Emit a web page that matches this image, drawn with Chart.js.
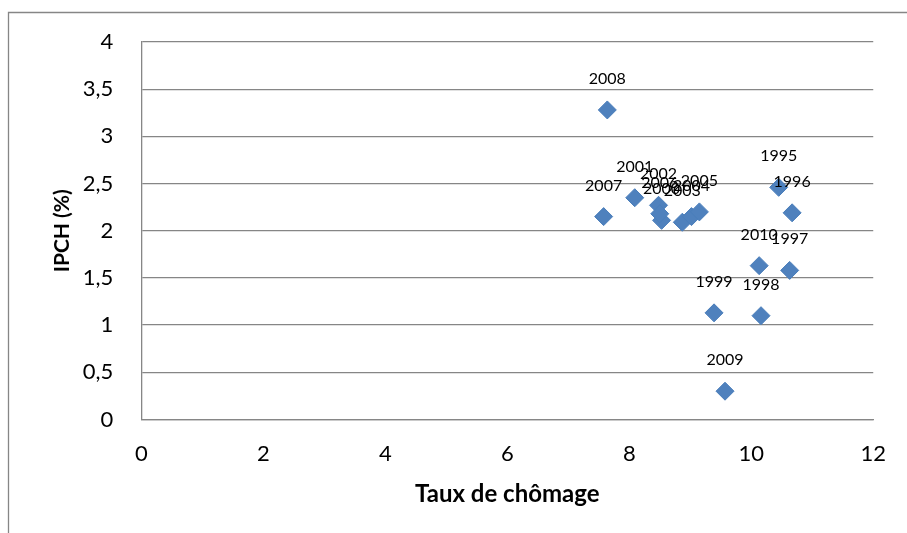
<!DOCTYPE html>
<html lang="fr">
<head>
<meta charset="UTF-8">
<title>IPCH et taux de chômage</title>
<script src="https://cdn.jsdelivr.net/npm/chart.js@4.4.0/dist/chart.umd.min.js"></script>
<style>
  html, body { margin: 0; padding: 0; background: #fff; }
  #graphique { display: block; }
</style>
</head>
<body>
<canvas id="graphique" width="907" height="533"></canvas>
<script>
// années, taux de chômage (%) et IPCH (%)
const annees = ['1995', '1996', '1997', '1998', '1999', '2000', '2001', '2002',
                '2003', '2004', '2005', '2006', '2007', '2008', '2009', '2010'];
const chomage = [10.45, 10.67, 10.63, 10.16, 9.39, 8.53, 8.09, 8.48,
                 8.87, 9.02, 9.15, 8.50, 7.58, 7.64, 9.57, 10.13];
const ipch = [2.46, 2.19, 1.58, 1.10, 1.13, 2.11, 2.35, 2.27,
              2.09, 2.15, 2.20, 2.18, 2.15, 3.28, 0.30, 1.63];

const gris = '#868686';
const police = 'Lato, "Open Sans", sans-serif';

const points = chomage.map((x, i) => ({ x: x, y: ipch[i] }));

// cadre du graphique (bords gauche et haut visibles)
const cadre = {
  id: 'cadre',
  beforeDraw(chart) {
    const ctx = chart.ctx;
    ctx.save();
    ctx.fillStyle = '#fff';
    ctx.fillRect(0, 0, chart.width, chart.height);
    ctx.strokeStyle = gris;
    ctx.lineWidth = 1.3;
    ctx.beginPath();
    ctx.moveTo(8.5, chart.height);
    ctx.lineTo(8.5, 12.5);
    ctx.lineTo(chart.width, 12.5);
    ctx.stroke();
    ctx.restore();
  }
};

// étiquettes des années au-dessus des points
const etiquettes = {
  id: 'etiquettes',
  afterDatasetsDraw(chart) {
    const ctx = chart.ctx;
    const meta = chart.getDatasetMeta(0);
    ctx.save();
    ctx.font = '16px ' + police;
    ctx.fillStyle = '#000';
    ctx.textAlign = 'center';
    ctx.textBaseline = 'alphabetic';
    meta.data.forEach((pt, i) => {
      ctx.fillText(annees[i], pt.x, pt.y - 26);
    });
    ctx.restore();
  }
};

const virgule = v => String(v).replace('.', ',');

new Chart(document.getElementById('graphique'), {
  type: 'scatter',
  data: {
    datasets: [{
      label: 'IPCH',
      data: points,
      pointStyle: 'rectRot',
      pointRadius: 9,
      pointHoverRadius: 9,
      backgroundColor: '#4F81BD',
      borderColor: '#4A7EBB',
      borderWidth: 1
    }]
  },
  options: {
    responsive: false,
    animation: false,
    layout: { padding: { left: 0, right: 30.5, top: 42, bottom: 0 } },
    plugins: {
      legend: { display: false },
      tooltip: { enabled: false }
    },
    scales: {
      x: {
        type: 'linear',
        min: 0,
        max: 12,
        afterFit(scale) { scale.height = 113.5; },
        ticks: {
          stepSize: 2,
          padding: 21,
          color: '#000',
          font: { family: police, size: 22 },
          callback: virgule
        },
        grid: { display: false, drawTicks: false },
        border: { display: true, color: gris, width: 1.3 },
        title: {
          display: true,
          text: 'Taux de chômage',
          color: '#000',
          font: { family: police, size: 24, weight: 'bold' },
          padding: { top: 0, bottom: 24 }
        }
      },
      y: {
        min: 0,
        max: 4,
        afterFit(scale) { scale.width = 141.3; },
        ticks: {
          stepSize: 0.5,
          padding: 28,
          color: '#000',
          font: { family: police, size: 22 },
          callback: virgule
        },
        grid: { color: gris, lineWidth: 1.3, drawTicks: false },
        border: { display: true, color: gris, width: 1.3 },
        title: {
          display: true,
          text: 'IPCH (%)',
          color: '#000',
          font: { family: police, size: 21, weight: 'bold' },
          padding: { top: 50, bottom: 0 }
        }
      }
    }
  },
  plugins: [cadre, etiquettes]
});
</script>
</body>
</html>
